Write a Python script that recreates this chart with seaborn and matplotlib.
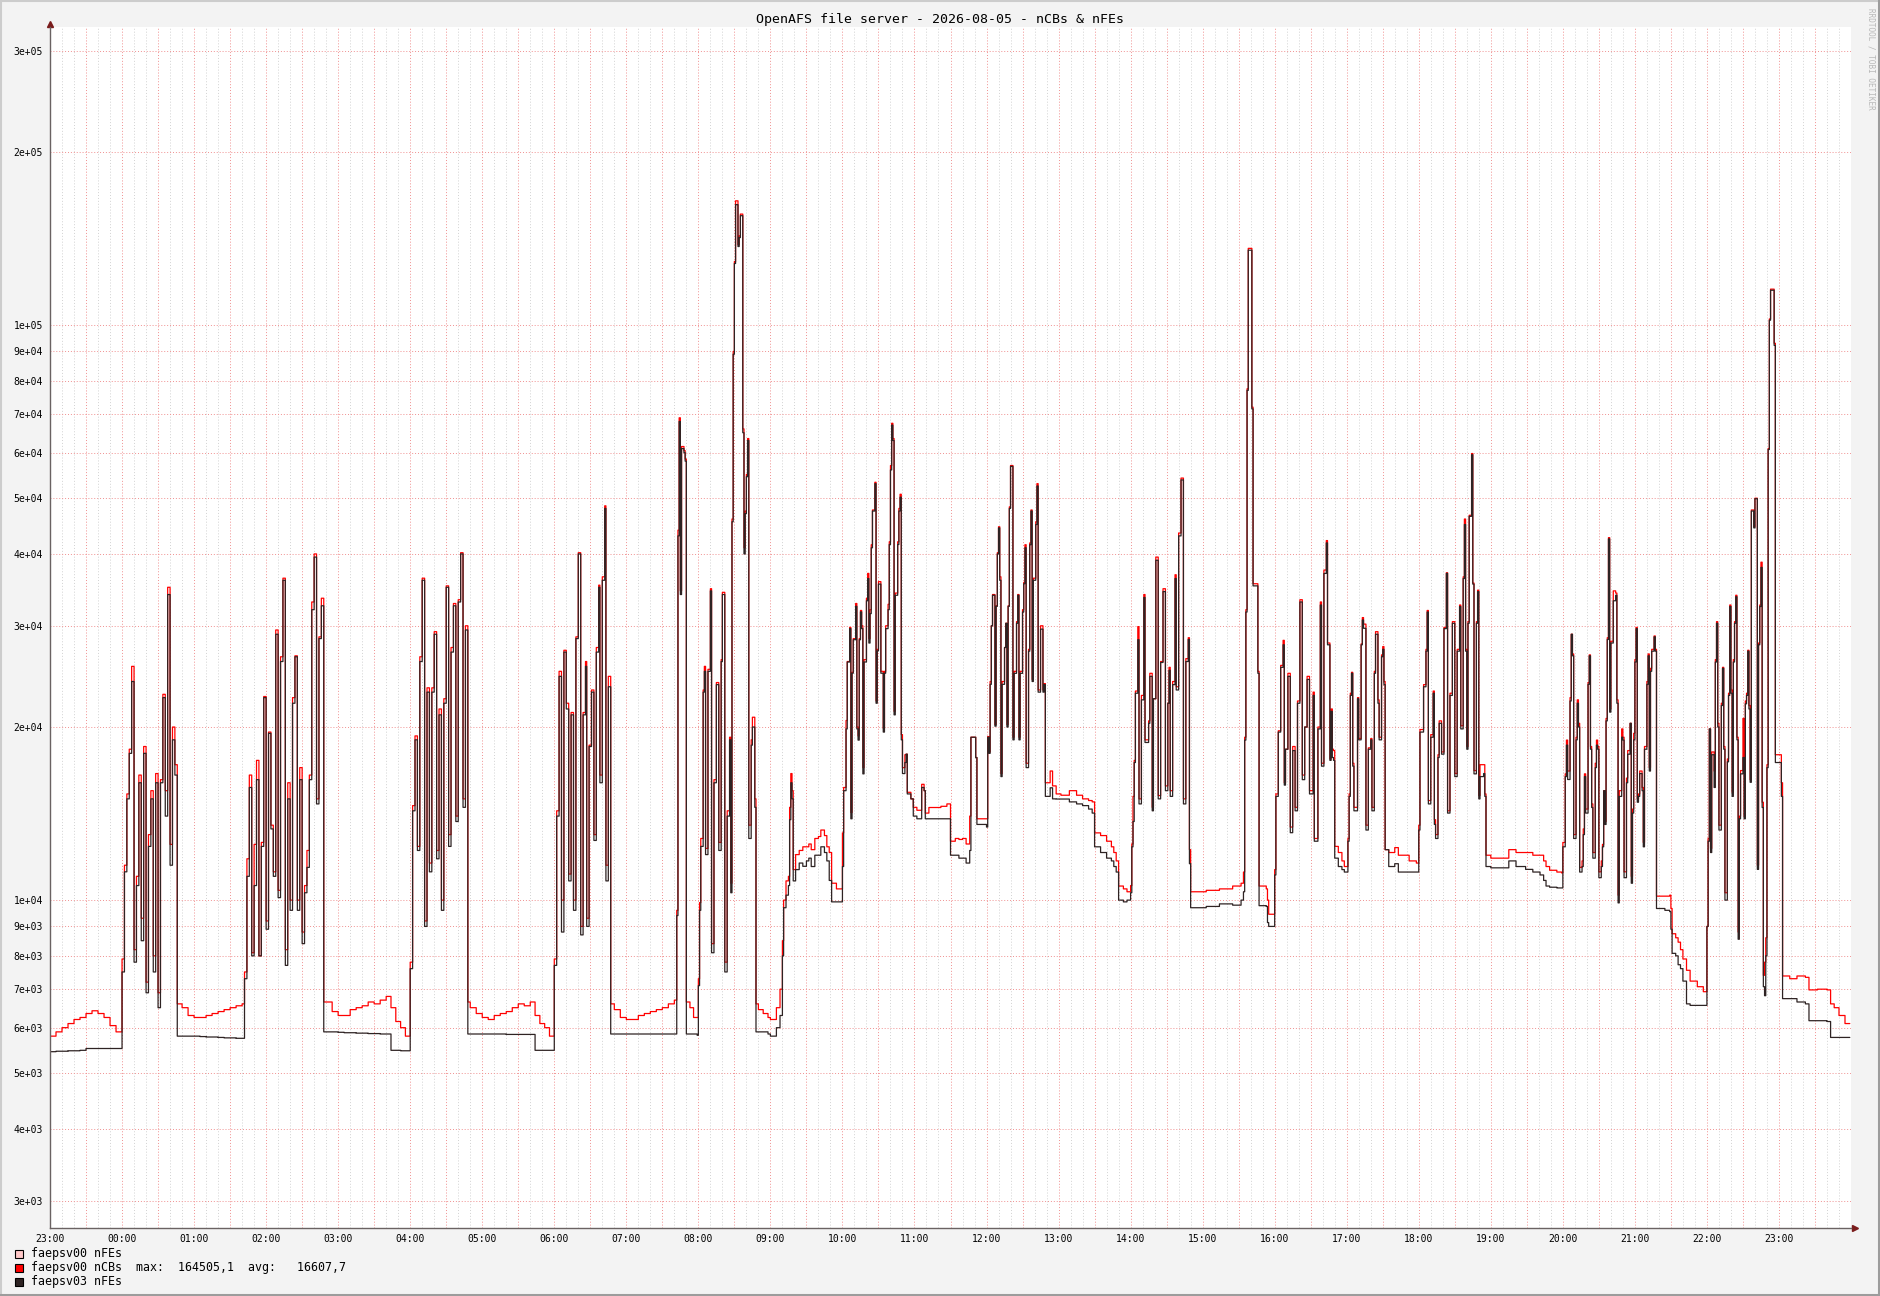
import pandas as pd
import matplotlib
matplotlib.use('Agg')
import matplotlib.pyplot as plt
import matplotlib.dates as mdates
from matplotlib.patches import Rectangle
from matplotlib.lines import Line2D
from matplotlib.ticker import FixedLocator, FuncFormatter, NullLocator
import seaborn as sns

# sample times, minutes after 2026-08-04 23:00
minutes = [
    0, 5, 10, 15, 20, 25, 30, 35, 40, 45, 50, 55,
    60, 62, 64, 66, 68, 70, 72, 74, 76, 78, 80, 82, 84, 86, 88, 90, 92, 94, 96, 98, 100, 102, 104,
    106, 110, 115, 120, 125, 130, 135, 140, 145, 150, 155, 160,
    162, 164, 166, 168, 170, 172, 174, 176, 178, 180, 182, 184, 186, 188, 190, 192, 194, 196, 198, 200,
    202, 204, 206, 208, 210, 212, 214, 216, 218, 220, 222, 224, 226,
    228, 235, 240, 245, 250, 255, 260, 265, 270, 275, 280, 284, 288, 292, 296,
    300, 302, 304, 306, 308, 310, 312, 314, 316, 318, 320, 322, 324, 326, 328, 330, 332, 334, 336, 338,
    340, 342, 344, 346,
    348, 350, 355, 360, 365, 370, 375, 380, 385, 390, 395, 400, 404, 408, 412, 416,
    420, 422, 424, 426, 428, 430, 432, 434, 436, 438, 440, 442, 444, 446, 447, 449, 451, 453, 455, 457,
    458, 460, 462, 463, 465,
    467, 470, 475, 480, 485, 490, 495, 500, 505, 510, 515, 520,
    522, 523, 524, 525, 526, 528, 529, 530, 533, 536, 539, 540, 541, 542, 544, 545, 546, 548, 550, 551,
    553, 555, 557, 559, 560, 562, 564, 566, 567, 568, 569, 570, 571, 573, 574, 575, 577, 578, 579, 580,
    581, 582, 584, 585, 587, 588, 590, 594, 598,
    600, 605, 608, 610, 611, 613, 615, 616, 617, 618,
    619, 621, 624, 627, 630, 632, 634, 637, 640, 642,
    645, 647, 649, 651, 655, 658, 660, 661, 663, 664,
    666, 667, 668, 669, 671, 672, 673, 674, 675, 676,
    677, 678, 680, 681, 682, 683, 684, 685, 687, 688,
    689, 690, 692, 694, 695, 696, 698, 699, 700, 701,
    702, 703, 704, 706, 707, 708, 709, 710, 712, 713,
    714, 717, 719, 722, 725, 726, 728, 729, 732, 742,
    747, 750, 754, 757, 760, 763, 766, 767, 771, 772,
    780, 781, 782, 783, 784, 785, 787, 788, 789, 790,
    791, 792, 793, 795, 796, 797, 798, 799, 800, 802,
    803, 805, 806, 807, 808, 810, 811, 812, 813, 815,
    816, 817, 818, 819, 821, 822, 823, 825, 827, 828,
    829, 833, 835, 838, 842, 849, 855, 860, 865, 868,
    870, 875, 880, 884, 886, 888, 890, 894, 897,
    900, 901, 902, 903, 904, 906, 907, 909, 911, 912,
    915, 916, 918, 919, 921, 923, 925, 927, 929, 931,
    932, 933, 935, 937, 938, 940, 942, 944, 946, 948,
    949, 950, 963, 974, 985, 992, 994, 995, 996, 997,
    998, 1001, 1002, 1006, 1007, 1013, 1014, 1015, 1020, 1021,
    1023, 1025, 1027, 1028, 1029, 1031, 1033, 1035, 1037, 1039,
    1041, 1043, 1045, 1047, 1049, 1052, 1053, 1056, 1058, 1059,
    1061, 1063, 1064, 1066, 1067, 1068, 1069, 1070, 1073, 1076,
    1078, 1081, 1082, 1083, 1084, 1085, 1086, 1089, 1090, 1092,
    1093, 1094, 1096, 1098, 1100, 1101, 1103, 1104, 1106, 1107,
    1109, 1110, 1111, 1112, 1115, 1120, 1123, 1132, 1138, 1140,
    1141, 1144, 1146, 1147, 1148, 1150, 1152, 1153, 1154, 1156,
    1157, 1159, 1161, 1163, 1164, 1166, 1168, 1170, 1172, 1174,
    1175, 1177, 1178, 1179, 1180, 1181, 1182, 1184, 1185, 1186,
    1188, 1189, 1190, 1191, 1194, 1195, 1196,
    1200, 1210, 1215, 1221, 1229, 1235, 1241, 1244, 1246, 1249,
    1255, 1259, 1260, 1262, 1263, 1264, 1266, 1267, 1268, 1269,
    1271, 1272, 1273, 1274, 1276, 1277, 1278, 1279, 1281, 1282,
    1283, 1284, 1285, 1287, 1288, 1289, 1290, 1292, 1293, 1294,
    1295, 1296, 1297, 1298, 1299, 1300, 1302, 1304, 1305, 1306,
    1307, 1309, 1310, 1311, 1313, 1314, 1316, 1317, 1318, 1319,
    1320, 1321, 1322, 1323, 1324, 1326, 1327, 1328, 1330, 1331,
    1332, 1333, 1334, 1336, 1337, 1338, 1345, 1349, 1350, 1351,
    1354, 1356, 1358, 1360, 1363, 1366, 1372, 1377, 1380, 1381,
    1382, 1383, 1384, 1386, 1387, 1388, 1389, 1390, 1392, 1393,
    1394, 1395, 1397, 1398, 1399, 1400, 1401, 1402, 1403, 1404,
    1405, 1406, 1407, 1408, 1410, 1411, 1412, 1413, 1414, 1415,
    1416, 1417, 1419, 1420, 1422, 1423, 1424, 1425, 1426, 1427,
    1428, 1429, 1430, 1431, 1432, 1433, 1436, 1437, 1442, 1443,
    1449, 1455, 1462, 1465, 1472, 1480, 1483, 1486, 1490, 1495,
    1499,
]

nfes_sv03 = [
    5450, 5460, 5460, 5470, 5470, 5480, 5520, 5520, 5520, 5520, 5520, 5520,
    7500, 11200, 15000, 18000, 24000, 7800, 10600, 16000, 8500, 18000, 6900, 12400, 15000, 7500, 16000,
    6500, 16000, 22500, 14000, 34000, 11500, 19000, 16500,
    5800, 5800, 5800, 5800, 5790, 5780, 5780, 5770, 5760, 5760, 5750, 5750,
    7300, 11000, 15700, 8000, 10600, 16200, 8000, 12400, 22500, 8900, 19500, 13300, 11000, 29000, 10100,
    26000, 36000, 7700, 15000, 9600, 22000, 26500, 9600, 16200, 8400, 10300, 11400, 16200, 32000, 39500,
    14700, 28500, 32500,
    5900, 5900, 5890, 5880, 5880, 5870, 5870, 5860, 5860, 5850, 5850, 5480, 5480, 5470, 5470,
    7600, 14300, 19000, 12200, 26000, 36000, 9000, 23000, 11200, 23000, 29000, 11800, 21000, 9600, 22000,
    35000, 12400, 27000, 32500, 13700, 33000, 40000, 14500, 29500,
    5850, 5850, 5850, 5850, 5850, 5850, 5850, 5840, 5840, 5840, 5840, 5840, 5480, 5480, 5480, 5480,
    7700, 14000, 24500, 8800, 27000, 21500, 10800, 21000, 9600, 28500, 40000, 8700, 21000, 25500, 9000,
    18500, 23000, 12700, 27000, 35000, 16000, 36000, 48000, 10800, 23500,
    5850, 5850, 5850, 5850, 5850, 5850, 5850, 5850, 5850, 5850, 5850, 5850,
    9400, 43000, 68000, 34000, 61000, 60000, 58000, 5850, 5850, 5850, 5820, 7100, 9600, 12400, 23000,
    25000, 12000, 25000, 34500, 8100, 16000, 23700, 12200, 26000, 34000, 7500, 14000, 19000, 10300, 45500,
    89000, 128000, 162000, 137000, 142000, 155000, 65000, 40000, 47000, 54500, 63000, 12800, 18600, 20000,
    14500, 5900, 5900, 5900, 5850,
    5800, 6000, 6300, 8000, 9700, 10200, 10600, 13800, 16000, 15000,
    10800, 11300, 11600, 11450, 11700, 11830, 11440, 11970, 11970, 12380,
    12100, 11700, 10820, 9930, 9930, 9930, 11440, 15500, 19850, 25950,
    29660, 13850, 24810, 28370, 32430, 19850, 18980, 28370, 31710, 29660,
    16580, 25950, 33160, 36250, 28000, 31500, 41000, 47500, 53000, 22000,
    27130, 35450, 24810, 19600, 24810, 29660, 32000, 41540, 56000, 67000,
    63000, 21000, 33900, 41540, 47500, 50200, 19000, 16600, 17350, 17940,
    15300, 15000, 14000, 13850, 13850, 15700, 15500, 13850, 13850, 13850,
    13850, 11970, 11970, 11830, 11830, 11600, 12200, 19200, 17700, 13540,
    13400, 19200, 18000, 23730, 30000, 33900, 20070, 32430, 40000, 44400,
    36000, 16400, 23730, 27500, 30300, 20000, 32430, 48000, 56800, 19000,
    24800, 30300, 33900, 19000, 24800, 31700, 35500, 41000, 17000, 27100,
    41500, 47500, 24000, 36000, 45000, 52500, 23000, 29600, 23000, 23700,
    15150, 15680, 15000, 14990, 14990, 14820, 14700, 14600, 14400, 14170,
    12380, 12100, 11830, 11700, 11440, 11190, 10000, 9930, 10000,
    10300, 12380, 13700, 17350, 22900, 28370, 14700, 22300, 33600, 18800,
    20300, 24500, 14300, 22400, 39000, 15000, 25900, 34400, 15500, 22000,
    25100, 15150, 23700, 36250, 23200, 43000, 53800, 14700, 26000, 28400,
    11570, 9700, 9750, 9850, 9800, 10000, 10340, 18980, 31700, 77000,
    135000, 71500, 35200, 24800, 9780, 9750, 9140, 9000, 11060, 15150,
    19600, 25400, 27800, 15850, 18300, 24500, 13100, 18200, 14300, 22000,
    33000, 16200, 20000, 24200, 15300, 22700, 12660, 19850, 32600, 17100,
    37000, 41800, 27800, 17500, 21300, 17700, 17500, 11830, 11440, 11300,
    11190, 12660, 15150, 22700, 24800, 17100, 14300, 22400, 19000, 27800,
    30700, 29700, 13240, 18300, 19000, 14300, 24800, 29000, 22000, 19000,
    26500, 27300, 23700, 12240, 11440, 11570, 11190, 11190, 11190, 13240,
    19600, 23500, 27100, 31700, 14700, 19200, 22900, 13540, 12800, 17700,
    20300, 17940, 29660, 37000, 14170, 22700, 30300, 16400, 27100, 32400,
    19850, 36250, 45000, 27100, 18300, 30300, 46500, 59500, 35450, 16580,
    30300, 34400, 15000, 16400, 16600, 15150, 11440,
    11380, 11380, 11700, 11440, 11310, 11190, 11060, 10820, 10580, 10530,
    10500, 10500, 12380, 16400, 18600, 16210, 22200, 29000, 26600, 12800,
    19000, 22000, 20000, 11190, 11440, 13000, 16400, 14170, 23730, 26600,
    18300, 14490, 11830, 17000, 18600, 18300, 10940, 11440, 12380, 15500,
    13540, 20500, 28400, 42480, 21230, 28000, 33160, 33900, 22000, 9890,
    15150, 19200, 18980, 10940, 16000, 17940, 20300, 10700, 14170, 19000,
    25950, 29660, 14800, 15150, 16600, 15500, 12380, 18300, 23730, 26600,
    16770, 25000, 27100, 28700, 27100, 9670, 9600, 9550, 8900, 8080,
    8000, 7720, 7600, 7230, 6600, 6560, 6560, 6560, 9000, 12660,
    19850, 12100, 17900, 15700, 25950, 30300, 20000, 13240, 21800, 25300,
    18300, 10000, 17400, 22700, 32400, 22900, 15150, 25950, 30300, 33700,
    19000, 8550, 13850, 16580, 17700, 13850, 21950, 22700, 27100, 21500,
    16030, 47500, 44400, 49900, 11310, 27800, 32400, 37900, 14490, 7070,
    6820, 8000, 17000, 60770, 102000, 115000, 92200, 17350, 15150, 6740,
    6740, 6650, 6600, 6170, 6170, 6150, 5770, 5770, 5770, 5770,
    5770,
]

ncbs_sv00 = [
    5800, 5900, 6000, 6100, 6200, 6250, 6350, 6420, 6350, 6250, 6050, 5900,
    7900, 11500, 15300, 18300, 25500, 8200, 11000, 16500, 9300, 18500, 7200, 13000, 15500, 8000, 16600,
    6900, 16200, 22800, 15500, 35000, 12500, 20000, 17200,
    6600, 6500, 6300, 6250, 6250, 6300, 6350, 6400, 6450, 6500, 6550, 6600,
    7500, 11800, 16500, 8100, 12500, 17500, 8000, 12600, 22600, 9200, 19600, 13500, 11200, 29500, 10400,
    26500, 36300, 8200, 16000, 10000, 22500, 26600, 10000, 17000, 8800, 10600, 12200, 16500, 33000, 40000,
    15000, 28700, 33500,
    6650, 6400, 6300, 6300, 6450, 6500, 6550, 6650, 6600, 6700, 6800, 6500, 6150, 6000, 5800,
    7800, 14600, 19300, 12400, 26500, 36300, 9200, 23400, 11600, 23400, 29300, 12200, 21500, 10000, 22400,
    35200, 13000, 27500, 32800, 14000, 33300, 40200, 15000, 30000,
    6650, 6500, 6350, 6250, 6200, 6300, 6350, 6400, 6500, 6600, 6550, 6650, 6300, 6100, 6000, 5800,
    7900, 14300, 25000, 10000, 27200, 22000, 11100, 21200, 10000, 28700, 40200, 9000, 21200, 26000, 9300,
    18600, 23200, 13000, 27500, 35300, 16500, 36500, 48500, 11500, 24500,
    6600, 6450, 6250, 6200, 6200, 6300, 6350, 6400, 6450, 6500, 6600, 6700,
    9600, 44000, 69000, 34500, 61500, 60500, 58500, 6650, 6500, 6250, 6250, 7300, 9900, 12800, 23200,
    25500, 12300, 25200, 34800, 8400, 16200, 23900, 12600, 26200, 34300, 7800, 14300, 19200, 10700, 46000,
    90000, 129000, 164505, 138000, 143000, 156000, 66000, 41000, 47500, 55000, 63500, 13500, 19000, 20800,
    15000, 6600, 6450, 6350, 6250,
    6200, 6500, 7000, 8500, 10000, 10800, 11000, 14500, 16600, 15500,
    11300, 12000, 12200, 12380, 12380, 12520, 12240, 12800, 12900, 13240,
    12950, 12380, 12100, 10700, 10460, 10460, 13090, 15700, 20530, 26000,
    29800, 14200, 24900, 28500, 32800, 20000, 19300, 28500, 31900, 30000,
    17000, 26200, 33500, 37000, 28500, 32000, 41500, 47700, 53300, 22200,
    27300, 35800, 25000, 19900, 25000, 30000, 32700, 42000, 57000, 67500,
    63500, 21300, 34200, 42000, 48000, 50800, 19400, 17000, 17900, 17940,
    15400, 15000, 14500, 14330, 14330, 15900, 15500, 14170, 14490, 14560,
    14700, 12660, 12800, 12750, 12800, 12520, 14000, 19200, 17700, 13850,
    13850, 19250, 18100, 24000, 30000, 34000, 20200, 32500, 40200, 44600,
    36500, 16600, 24000, 27500, 30300, 20200, 32500, 48300, 57000, 19200,
    25000, 30500, 34000, 19200, 25000, 32000, 35700, 41500, 17300, 27300,
    41800, 47700, 24200, 36300, 45500, 53000, 23200, 30000, 23200, 23800,
    16000, 16770, 15800, 15300, 15220, 15500, 15220, 15000, 14900, 14820,
    13090, 12950, 12660, 12380, 12100, 11700, 10580, 10460, 10340,
    10600, 12520, 15150, 17500, 23100, 29900, 15000, 22700, 34000, 19000,
    20500, 24800, 14500, 22400, 39500, 15200, 26000, 34800, 15800, 22000,
    25400, 15500, 24000, 36800, 23500, 43500, 54200, 15000, 26300, 28600,
    12240, 10340, 10400, 10460, 10580, 10700, 11190, 19200, 32000, 77500,
    136000, 72000, 35500, 25000, 10580, 10460, 10000, 9450, 11300, 15300,
    19700, 25600, 28300, 16000, 18300, 24800, 13400, 18500, 14500, 22200,
    33300, 16500, 20000, 24500, 15500, 23000, 12800, 20000, 33000, 17300,
    37500, 42200, 28000, 17600, 21500, 18300, 18200, 12400, 12100, 11700,
    11440, 12800, 15300, 22900, 24900, 17300, 14500, 22500, 19100, 27900,
    31000, 30200, 13500, 18400, 19100, 14500, 25000, 29300, 22300, 19200,
    26700, 27600, 24000, 12240, 12100, 12340, 11970, 11700, 11600, 13500,
    19800, 23700, 27300, 31900, 14900, 19400, 23100, 13800, 13000, 17900,
    20500, 18100, 29800, 37100, 14300, 22900, 30500, 16600, 27300, 32600,
    20100, 36500, 46000, 27300, 18500, 30500, 46700, 59800, 35600, 16800,
    30500, 34600, 15200, 17200, 17200, 15300, 11970,
    11830, 11830, 12240, 12100, 12100, 11970, 11970, 11700, 11440, 11270,
    11190, 11150, 12600, 16580, 18980, 16770, 22500, 29000, 26800, 13000,
    19200, 22300, 20300, 11400, 11700, 13300, 16580, 14400, 23900, 26700,
    18500, 14700, 12100, 17300, 18980, 18500, 11200, 11700, 12500, 15500,
    13700, 20700, 28600, 42700, 21500, 28200, 34500, 34200, 22300, 10200,
    15500, 19850, 19200, 11200, 16300, 18200, 20300, 11000, 14400, 19500,
    26200, 29800, 15000, 15300, 16770, 15700, 12600, 18500, 24000, 26800,
    17000, 25300, 27300, 28800, 27300, 10160, 10160, 10200, 9670, 8740,
    8600, 8450, 8200, 7900, 7550, 7230, 7070, 6930, 9000, 12800,
    19850, 12300, 18100, 16770, 26200, 30500, 20300, 13500, 22000, 25400,
    18500, 10300, 17600, 22900, 32600, 23200, 15400, 26200, 30500, 33900,
    19200, 8800, 14000, 16800, 20700, 14000, 22200, 22900, 27200, 21800,
    16200, 47700, 44600, 50000, 11500, 28000, 32600, 38700, 14800, 7400,
    7800, 8600, 17200, 61000, 102500, 115500, 93000, 17900, 16000, 7380,
    7300, 7380, 7340, 6980, 7000, 6980, 6600, 6500, 6300, 6100,
    6100,
]

series_labels = ['faepsv00 nFEs', 'faepsv00 nCBs', 'faepsv03 nFEs']
series_colors = ['#ffc8c8', '#ff0000', '#2e2323']
ytick_values = [3e3, 4e3, 5e3, 6e3, 7e3, 8e3, 9e3,
                1e4, 2e4, 3e4, 4e4, 5e4, 6e4, 7e4, 8e4, 9e4,
                1e5, 2e5, 3e5]
title = 'OpenAFS file server - 2026-08-05 - nCBs & nFEs'
ncbs_max = '164505,1'
ncbs_avg = '16607,7'

assert len(minutes) == len(nfes_sv03) == len(ncbs_sv00)

start = pd.Timestamp('2026-08-04 23:00')
end = start + pd.Timedelta(hours=25)
times = start + pd.to_timedelta(minutes, unit='m')
df = pd.concat([
    pd.DataFrame({'time': times, 'value': ncbs_sv00, 'series': series_labels[1]}),
    pd.DataFrame({'time': times, 'value': nfes_sv03, 'series': series_labels[2]}),
], ignore_index=True)

sns.set_style('white')
plt.rcParams['font.family'] = ['DejaVu Sans Mono']

W, H = 1881, 1296
fig = plt.figure(figsize=(W / 100, H / 100), dpi=100, facecolor='#f3f3f3')
ax = fig.add_axes([50 / W, 1 - 1228 / H, 1801 / W, 1201 / H])
ax.set_facecolor('white')

sns.lineplot(data=df, x='time', y='value', hue='series', hue_order=series_labels[1:],
             palette=dict(zip(series_labels, series_colors)), estimator=None, sort=False,
             drawstyle='steps-post', linewidth=0.9, legend=False, ax=ax)

ax.set_yscale('log')
ax.set_ylim(2690, 330000)
ax.set_xlim(start, end)
ax.set_xlabel('')
ax.set_ylabel('')

ax.yaxis.set_major_locator(FixedLocator(ytick_values))
ax.yaxis.set_major_formatter(FuncFormatter(lambda v, p: f'{v:.0e}'))
ax.yaxis.set_minor_locator(NullLocator())

end_num = mdates.date2num(end.to_pydatetime())


def hour_label(v, pos):
    d = mdates.num2date(v)
    if d.minute != 0 or v >= end_num - 1e-6:
        return ''
    return d.strftime('%H:%M')


ax.xaxis.set_major_locator(mdates.MinuteLocator(byminute=[0, 30]))
ax.xaxis.set_minor_locator(mdates.MinuteLocator(byminute=[10, 20, 40, 50]))
ax.xaxis.set_major_formatter(FuncFormatter(hour_label))

ax.set_axisbelow(True)
ax.grid(True, which='major', axis='both', color='#f09090', linestyle=(0, (1, 2)), linewidth=0.7)
ax.grid(True, which='minor', axis='x', color='#d2d2d2', linestyle=(0, (1, 2)), linewidth=0.7)

ax.tick_params(axis='both', which='major', length=2.5, width=0.8, color='#555555',
               labelsize=7, labelcolor='black', pad=2.5)
ax.tick_params(axis='x', which='major', pad=1.5)
ax.tick_params(axis='x', which='minor', length=1.5, width=0.6, color='#777777')

for side in ['top', 'right']:
    ax.spines[side].set_visible(False)
for side in ['left', 'bottom']:
    ax.spines[side].set_color('#6a6262')
    ax.spines[side].set_linewidth(1.0)

# axis arrows
ax.plot([0], [1 + 3 / 1201], marker='^', markersize=5, color='#7a1c1c',
        transform=ax.transAxes, clip_on=False)
ax.plot([1 + 4 / 1801], [0], marker='>', markersize=5, color='#7a1c1c',
        transform=ax.transAxes, clip_on=False)

fig.text(940 / W, 1 - 20 / H, title, ha='center', va='center', fontsize=9.5, color='black')

fig.text(1871 / W, 1 - 59 / H, 'RRDTOOL / TOBI OETIKER', rotation=270, ha='center', va='center',
         fontsize=5.5, color='#b8b8b8')

# legend rows below the plot
legend_rows = [
    (series_labels[0], series_colors[0], ''),
    (series_labels[1], series_colors[1], f'  max:  {ncbs_max}  avg:   {ncbs_avg}'),
    (series_labels[2], series_colors[2], ''),
]
for i, (label, color, extra) in enumerate(legend_rows):
    yc = 1254 + 14 * i
    fig.add_artist(Rectangle((15 / W, 1 - (yc + 4) / H), 8 / W, 8 / H, transform=fig.transFigure,
                             facecolor=color, edgecolor='black', linewidth=0.8))
    fig.text(31 / W, 1 - yc / H, label + extra, ha='left', va='center', fontsize=8.4, color='black')

# image frame
fig.add_artist(Line2D([0, 1], [1 - 1 / H, 1 - 1 / H], color='#cccccc', linewidth=1.5,
                      transform=fig.transFigure))
fig.add_artist(Line2D([1 / W, 1 / W], [0, 1], color='#cccccc', linewidth=1.5,
                      transform=fig.transFigure))
fig.add_artist(Line2D([1 - 1.5 / W, 1 - 1.5 / W], [0, 1], color='#9c9c9c', linewidth=2.2,
                      transform=fig.transFigure))
fig.add_artist(Line2D([0, 1], [1.5 / H, 1.5 / H], color='#9c9c9c', linewidth=2.2,
                      transform=fig.transFigure))

fig.savefig('out.png', dpi=100, facecolor=fig.get_facecolor())
